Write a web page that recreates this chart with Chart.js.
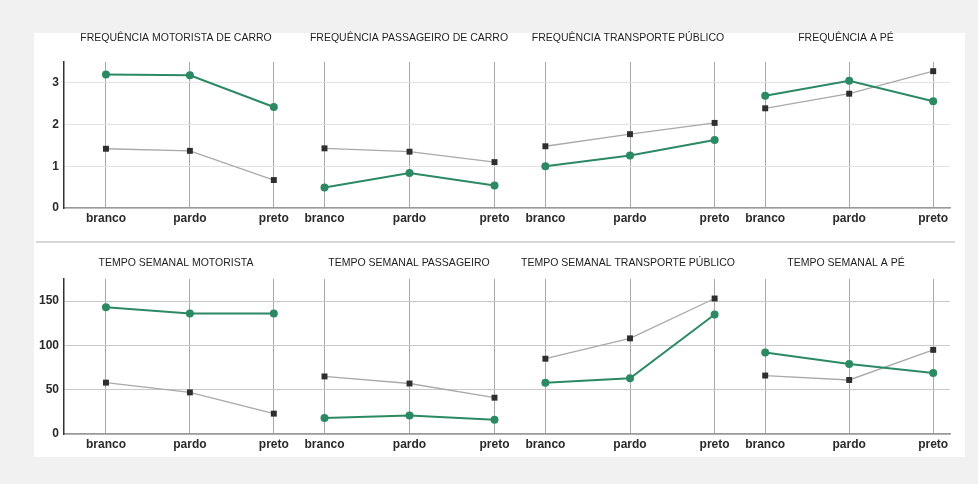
<!DOCTYPE html>
<html>
<head>
<meta charset="utf-8">
<script src="https://cdn.jsdelivr.net/npm/chart.js@4.4.1/dist/chart.umd.min.js"></script>
<style>
  html, body { margin: 0; padding: 0; background: #f1f1f1; }
  body { width: 978px; height: 484px; position: relative; overflow: hidden; }
  #panel { position: absolute; left: 34px; top: 33px; width: 931px; height: 424px; background: #fff; }
  #sep { position: absolute; left: 36px; top: 241px; width: 919px; height: 2px; background: #d6d6d6; }
  .cell { position: absolute; }
  .cell canvas { display: block; }
</style>
</head>
<body>
<div id="panel"></div>
<div id="sep"></div>
<div id="charts"></div>

<script>
// categories and tick labels
const categories = ['branco', 'pardo', 'preto'];
const freqTicks = [0, 1, 2, 3];
const tempoTicks = [0, 50, 100, 150];

const freqTitles = ['FREQUÊNCIA MOTORISTA DE CARRO', 'FREQUÊNCIA PASSAGEIRO DE CARRO', 'FREQUÊNCIA TRANSPORTE PÚBLICO', 'FREQUÊNCIA A PÉ'];
const tempoTitles = ['TEMPO SEMANAL MOTORISTA', 'TEMPO SEMANAL PASSAGEIRO', 'TEMPO SEMANAL TRANSPORTE PÚBLICO', 'TEMPO SEMANAL A PÉ'];

// green series (circles) and gray series (squares), one list per panel
const freqGreen = [[3.2, 3.18, 2.42], [0.49, 0.84, 0.54], [1.0, 1.26, 1.63], [2.69, 3.05, 2.56]];
const freqGray  = [[1.42, 1.37, 0.67], [1.43, 1.35, 1.10], [1.48, 1.77, 2.04], [2.39, 2.74, 3.28]];
const tempoGreen = [[143, 136, 136], [18, 21, 16], [58, 63, 135], [92, 79, 69]];
const tempoGray  = [[58, 47, 23], [65, 57, 41], [85, 108, 153], [66, 61, 95]];

const GREEN = '#2b8a64';
const FONT = '"Liberation Sans", Arial, sans-serif';

// column geometry: canvas left/width, chart-area padding, x range, title centre (canvas px)
const cols = [
  { left: 30,  width: 269, padR: 0,  axisW: 34, xmin: -0.5, xmax: 2.3, titleX: 146 },
  { left: 299, width: 221, padR: 0,  axisW: 0,  xmin: -0.3, xmax: 2.3, titleX: 110 },
  { left: 520, width: 220, padR: 0,  axisW: 0,  xmin: -0.3, xmax: 2.3, titleX: 108 },
  { left: 740, width: 225, padR: 15, axisW: 0,  xmin: -0.3, xmax: 2.2, titleX: 106 }
];

const rows = [
  { top: 29,  height: 201, padT: 33, titleY: 9.5, ymax: 3.5, ticks: freqTicks, grid: '#e3e3e3', titles: freqTitles, green: freqGreen, gray: freqGray },
  { top: 254, height: 202, padT: 25, titleY: 9.5, ymax: 175, ticks: tempoTicks, grid: '#c9c9c9', titles: tempoTitles, green: tempoGreen, gray: tempoGray }
];

// draws the panel title above each small chart
const panelTitle = {
  id: 'panelTitle',
  afterDraw(chart, args, opts) {
    const ctx = chart.ctx;
    ctx.save();
    ctx.font = '10.5px ' + FONT;
    ctx.fillStyle = '#1e1e1e';
    ctx.textAlign = 'center';
    ctx.textBaseline = 'middle';
    ctx.fillText(opts.text, opts.x, opts.y);
    ctx.restore();
  }
};

const holder = document.getElementById('charts');

rows.forEach((row, r) => {
  cols.forEach((col, c) => {
    const div = document.createElement('div');
    div.className = 'cell';
    div.style.left = col.left + 'px';
    div.style.top = row.top + 'px';
    const canvas = document.createElement('canvas');
    canvas.width = col.width;
    canvas.height = row.height;
    div.appendChild(canvas);
    holder.appendChild(div);

    const first = c === 0;

    new Chart(canvas, {
      type: 'line',
      data: {
        datasets: [
          {
            data: row.green[c].map((v, i) => ({ x: i, y: v })),
            borderColor: GREEN,
            backgroundColor: GREEN,
            borderWidth: 2,
            pointStyle: 'circle',
            pointRadius: 4,
            pointBorderWidth: 0,
            order: 1
          },
          {
            data: row.gray[c].map((v, i) => ({ x: i, y: v })),
            borderColor: '#a9a9a9',
            backgroundColor: '#2e2e2e',
            borderWidth: 1.3,
            pointStyle: 'rect',
            pointRadius: 4.2,
            pointBorderWidth: 0,
            order: 2
          }
        ]
      },
      plugins: [panelTitle],
      options: {
        responsive: false,
        animation: false,
        devicePixelRatio: 1,
        layout: { autoPadding: false, padding: { left: 0, right: col.padR, top: row.padT, bottom: 0 } },
        plugins: {
          legend: { display: false },
          tooltip: { enabled: false },
          title: { display: false },
          panelTitle: { text: row.titles[c], x: col.titleX, y: row.titleY }
        },
        scales: {
          x: {
            type: 'linear',
            min: col.xmin,
            max: col.xmax,
            afterBuildTicks: s => { s.ticks = categories.map((_, i) => ({ value: i })); },
            afterFit: s => { s.height = 22; },
            grid: { color: '#a8a8a8', lineWidth: 1, drawTicks: false },
            border: { display: true, color: '#9a9a9a', width: 1.5 },
            ticks: {
              padding: 3,
              color: '#2a2a2a',
              font: { family: FONT, size: 12, weight: 'bold' },
              maxRotation: 0,
              callback: v => categories[v]
            }
          },
          y: {
            min: 0,
            max: row.ymax,
            afterBuildTicks: s => { s.ticks = row.ticks.map(v => ({ value: v })); },
            afterFit: s => { s.width = col.axisW; },
            grid: { color: row.grid, lineWidth: 1, drawTicks: false },
            border: { display: first, color: '#333', width: 1.5 },
            ticks: {
              display: first,
              padding: 5,
              color: '#2a2a2a',
              font: { family: FONT, size: 12, weight: 'bold' }
            }
          }
        }
      }
    });
  });
});
</script>
</body>
</html>
